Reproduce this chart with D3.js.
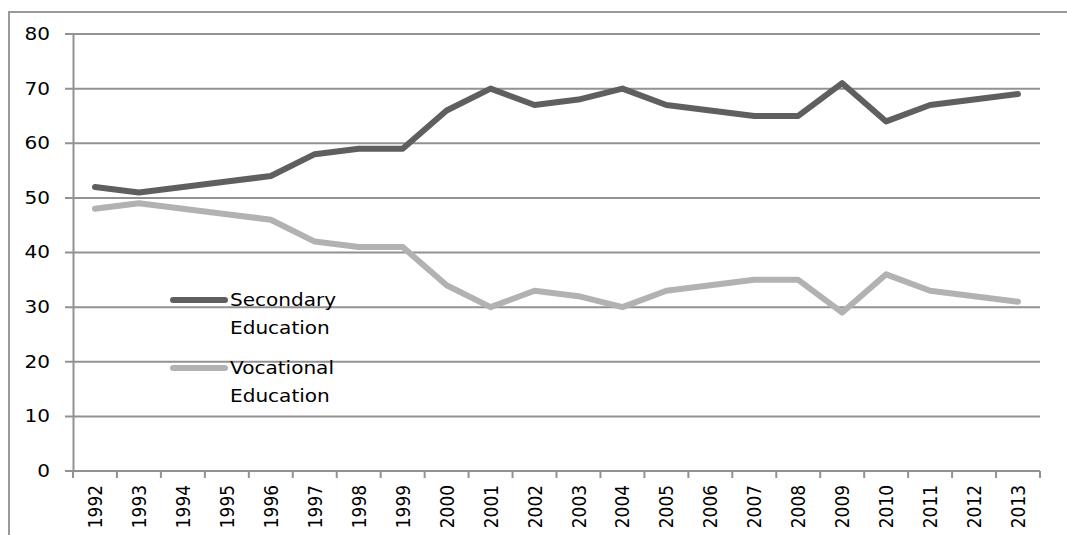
<!DOCTYPE html>
<html>
<head>
<meta charset="utf-8">
<script src="https://cdn.jsdelivr.net/npm/d3@7"></script>
<style>
	body { margin: 0; background: #fff; }
	text { font-family: "DejaVu Sans", Verdana, sans-serif; fill: #000; }
</style>
</head>
<body>
<script>
	var w = 1067;
	var h = 535;
	var margin = { top: 34, right: 27, bottom: 64, left: 73 };
	var stretch = 1.18; // source text looks horizontally widened

	var years = ["1992", "1993", "1994", "1995", "1996", "1997", "1998", "1999", "2000", "2001", "2002",
		"2003", "2004", "2005", "2006", "2007", "2008", "2009", "2010", "2011", "2012", "2013"];
	var secondary = [52, 51, 52, 53, 54, 58, 59, 59, 66, 70, 67, 68, 70, 67, 66, 65, 65, 71, 64, 67, 68, 69];
	var vocational = [48, 49, 48, 47, 46, 42, 41, 41, 34, 30, 33, 32, 30, 33, 34, 35, 35, 29, 36, 33, 32, 31];
	var yTicks = [0, 10, 20, 30, 40, 50, 60, 70, 80];

	var series = [
		{ name: ["Secondary", "Education"], values: secondary, color: "#5f5f5f" },
		{ name: ["Vocational", "Education"], values: vocational, color: "#b2b2b2" }
	];

	var svg = d3.select("body").append("svg")
		.attr("width", w)
		.attr("height", h);

	// outer frame (top and left only visible)
	svg.append("path")
		.attr("d", "M9,535V12H1067")
		.attr("fill", "none")
		.attr("stroke", "#999")
		.attr("stroke-width", 2);

	var x = d3.scaleBand()
		.domain(years)
		.range([margin.left, w - margin.right]);

	var y = d3.scaleLinear()
		.domain([0, 80])
		.range([h - margin.bottom, margin.top]);

	// gridlines
	svg.append("g")
		.selectAll("line")
		.data(yTicks)
		.enter().append("line")
		.attr("x1", margin.left - 8)
		.attr("x2", w - margin.right)
		.attr("y1", function (d) { return y(d); })
		.attr("y2", function (d) { return y(d); })
		.attr("stroke", "#929292")
		.attr("stroke-width", 2);

	// y axis
	var yAxis = d3.axisLeft(y).tickValues(yTicks).tickSize(0).tickFormat("");
	svg.append("g")
		.attr("transform", "translate(" + margin.left + ",0)")
		.call(yAxis)
		.call(function (g) {
			g.select(".domain").attr("stroke", "#929292").attr("stroke-width", 2);
		});
	svg.append("g")
		.selectAll("text")
		.data(yTicks)
		.enter().append("text")
		.attr("transform", function (d) { return "translate(50," + y(d) + ") scale(" + stretch + ",1)"; })
		.attr("text-anchor", "end")
		.attr("dy", "0.35em")
		.attr("font-size", 17)
		.text(function (d) { return d; });

	// x axis: ticks on band boundaries
	var xg = svg.append("g")
		.attr("transform", "translate(0," + (h - margin.bottom) + ")");
	xg.append("line")
		.attr("x1", margin.left).attr("x2", w - margin.right)
		.attr("stroke", "#929292").attr("stroke-width", 2);
	var bounds = years.map(function (d) { return x(d); }).concat([x.range()[1]]);
	xg.selectAll("line.tk")
		.data(bounds)
		.enter().append("line")
		.attr("class", "tk")
		.attr("x1", function (d) { return d; })
		.attr("x2", function (d) { return d; })
		.attr("y1", 0).attr("y2", 7)
		.attr("stroke", "#929292").attr("stroke-width", 2);
	xg.selectAll("text")
		.data(years)
		.enter().append("text")
		.attr("transform", function (d) {
			return "translate(" + (x(d) + x.bandwidth() / 2) + ",14) scale(" + stretch + ",1) rotate(-90)";
		})
		.attr("text-anchor", "end")
		.attr("dy", "0.35em")
		.attr("font-size", 17)
		.text(function (d) { return d; });

	var line = d3.line()
		.x(function (d, i) { return x(years[i]) + x.bandwidth() / 2; })
		.y(function (d) { return y(d); });

	svg.selectAll("path.series")
		.data(series)
		.enter().append("path")
		.attr("class", "series")
		.attr("d", function (d) { return line(d.values); })
		.attr("fill", "none")
		.attr("stroke", function (d) { return d.color; })
		.attr("stroke-width", 6)
		.attr("stroke-linejoin", "round")
		.attr("stroke-linecap", "round");

	// legend
	var legend = svg.selectAll("g.legend")
		.data(series)
		.enter().append("g")
		.attr("class", "legend")
		.attr("transform", function (d, i) { return "translate(173," + (300 + i * 68) + ")"; });
	legend.append("line")
		.attr("x1", 0).attr("x2", 52)
		.attr("stroke", function (d) { return d.color; })
		.attr("stroke-width", 6)
		.attr("stroke-linecap", "round");
	legend.append("text")
		.attr("transform", "translate(57,0) scale(" + stretch + ",1)")
		.attr("font-size", 17)
		.selectAll("tspan")
		.data(function (d) { return d.name; })
		.enter().append("tspan")
		.attr("x", 0)
		.attr("y", function (d, i) { return 6 + i * 28; })
		.text(function (d) { return d; });
</script>
</body>
</html>
